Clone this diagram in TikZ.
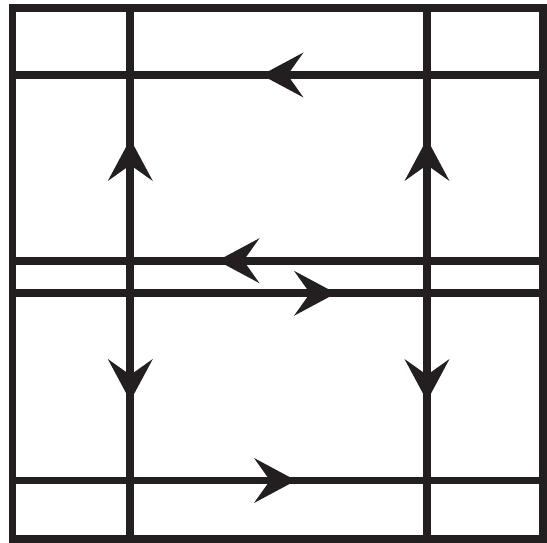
\documentclass[tikz,border=0pt]{standalone}
\usetikzlibrary{calc}
\definecolor{ink}{RGB}{35,31,32}
\begin{document}
\begin{tikzpicture}[x=1pt,y=1pt,
  gridline/.style={line width=7.8pt, color=ink},
  ahead/.pic={\fill[ink] (0,0) -- (-42,22.5) -- (-26,0) -- (-42,-22.5) -- cycle;}]
\useasboundingbox (0,0) rectangle (547,543);
% outer frame
\coordinate (bl) at (12.5,3.7);
\coordinate (tr) at (543.2,534.7);
\draw[gridline] (bl) rectangle (tr);
% vertical lines
\coordinate (v1t) at (130.3,534.7); \coordinate (v1b) at (130.3,3.7);
\coordinate (v2t) at (427,534.7);   \coordinate (v2b) at (427,3.7);
\draw[gridline] (v1t) -- (v1b);
\draw[gridline] (v2t) -- (v2b);
% horizontal lines
\coordinate (h1l) at (12.5,468);   \coordinate (h1r) at (543.2,468);
\coordinate (h2l) at (12.5,282.3); \coordinate (h2r) at (543.2,282.3);
\coordinate (h3l) at (12.5,249.7); \coordinate (h3r) at (543.2,249.7);
\coordinate (h4l) at (12.5,62.5);  \coordinate (h4r) at (543.2,62.5);
\draw[gridline] (h1l) -- (h1r);
\draw[gridline] (h2l) -- (h2r);
\draw[gridline] (h3l) -- (h3r);
\draw[gridline] (h4l) -- (h4r);
% arrowheads
\pic[rotate=180] at (261.5,468) {ahead};
\pic[rotate=180] at (217.5,282.3) {ahead};
\pic at (336,249.7) {ahead};
\pic at (296,62.5) {ahead};
\pic[rotate=90] at (130.3,404) {ahead};
\pic[rotate=-90] at (130.3,142) {ahead};
\pic[rotate=90] at (427,404) {ahead};
\pic[rotate=-90] at (427,142) {ahead};
\end{tikzpicture}
\end{document}
